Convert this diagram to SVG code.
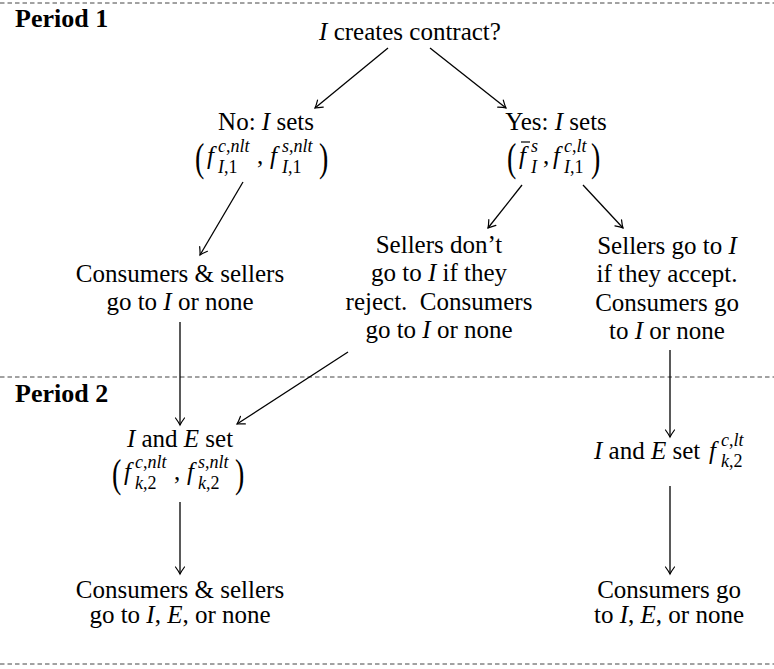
<svg xmlns="http://www.w3.org/2000/svg" width="774" height="669" viewBox="0 0 774 669">
<style>
text{font-family:'Liberation Serif','DejaVu Serif',serif}
.t{font-size:25px;fill:#000}
.c{text-anchor:middle}
.m{font-style:italic}
.u{font-style:normal}
.s{font-size:18px}
.b{font-weight:bold;font-size:26px}
.p{font-size:28px;fill:#000}
.cn{stroke:#000;stroke-width:1.3;fill:none;marker-end:url(#arr)}
.dash{stroke:#444;stroke-width:1;stroke-dasharray:4.5 3;fill:none}
</style>
<defs>
<marker id="arr" markerUnits="userSpaceOnUse" markerWidth="16" markerHeight="16" viewBox="-10 -8 16 16" refX="0" refY="0" orient="auto">
<path d="M-7,-4.5 Q-2.5,-1.2 0,0 Q-2.5,1.2 -7,4.5" fill="none" stroke="#000" stroke-width="1.2" stroke-linecap="round"/>
</marker>
</defs>
<rect width="774" height="669" fill="#fff"/>

<g id="separators">
<line class="dash" x1="0" y1="3" x2="774" y2="3"/>
<line class="dash" x1="0" y1="377" x2="774" y2="377"/>
<line class="dash" x1="0" y1="664" x2="774" y2="664"/>
</g>

<g id="period1"><text class="t b" x="15" y="27">Period 1</text></g>
<g id="period2"><text class="t b" x="15" y="402">Period 2</text></g>

<g id="n_root">
<text class="t c" x="410" y="40"><tspan class="m">I</tspan> creates contract?</text>
</g>

<g id="n_no">
<text class="t c" x="266" y="130">No: <tspan class="m">I</tspan> sets</text>
<text class="p" transform="translate(195,171) scale(1,1.4)">(</text>
<text class="t m" x="207" y="164">f</text>
<text class="t m s" x="218" y="152">c<tspan class="u">,</tspan>nlt</text>
<text class="t m s" x="218" y="173">I<tspan class="u">,1</tspan></text>
<text class="t" x="257" y="164">,</text>
<text class="t m" x="270" y="164">f</text>
<text class="t m s" x="282" y="152">s<tspan class="u">,</tspan>nlt</text>
<text class="t m s" x="282" y="173">I<tspan class="u">,1</tspan></text>
<text class="p" transform="translate(319,171) scale(1,1.4)">)</text>
</g>

<g id="n_yes">
<text class="t c" x="556" y="130">Yes: <tspan class="m">I</tspan> sets</text>
<text class="p" transform="translate(507,171) scale(1,1.4)">(</text>
<text class="t m" x="519" y="164">f</text>
<line x1="521" y1="142" x2="530" y2="142" stroke="#000" stroke-width="1.2"/>
<text class="t m s" x="531" y="152">s</text>
<text class="t m s" x="531" y="173">I</text>
<text class="t" x="543" y="164">,</text>
<text class="t m" x="553" y="164">f</text>
<text class="t m s" x="564" y="152">c<tspan class="u">,</tspan>lt</text>
<text class="t m s" x="564" y="173">I<tspan class="u">,1</tspan></text>
<text class="p" transform="translate(591,171) scale(1,1.4)">)</text>
</g>

<g id="n_cs1">
<text class="t c" x="180" y="282">Consumers &amp; sellers</text>
<text class="t c" x="180" y="310">go to <tspan class="m">I</tspan> or none</text>
</g>

<g id="n_reject">
<text class="t c" x="439" y="253">Sellers don’t</text>
<text class="t c" x="439" y="281">go to <tspan class="m">I</tspan> if they</text>
<text class="t c" x="439" y="310" xml:space="preserve">reject.  Consumers</text>
<text class="t c" x="439" y="338">go to <tspan class="m">I</tspan> or none</text>
</g>

<g id="n_accept">
<text class="t c" x="667" y="254">Sellers go to <tspan class="m">I</tspan></text>
<text class="t c" x="667" y="282">if they accept.</text>
<text class="t c" x="667" y="311">Consumers go</text>
<text class="t c" x="667" y="339">to <tspan class="m">I</tspan> or none</text>
</g>

<g id="n_p2left">
<text class="t c" x="180" y="447"><tspan class="m">I</tspan> and <tspan class="m">E</tspan> set</text>
<text class="p" transform="translate(112,487) scale(1,1.4)">(</text>
<text class="t m" x="124" y="480">f</text>
<text class="t m s" x="135" y="468">c<tspan class="u">,</tspan>nlt</text>
<text class="t m s" x="135" y="489">k<tspan class="u">,2</tspan></text>
<text class="t" x="174" y="480">,</text>
<text class="t m" x="187" y="480">f</text>
<text class="t m s" x="198" y="468">s<tspan class="u">,</tspan>nlt</text>
<text class="t m s" x="198" y="489">k<tspan class="u">,2</tspan></text>
<text class="p" transform="translate(235,487) scale(1,1.4)">)</text>
</g>

<g id="n_p2right">
<text class="t" x="594" y="459"><tspan class="m">I</tspan> and <tspan class="m">E</tspan> set</text>
<text class="t m" x="709" y="459">f</text>
<text class="t m s" x="721" y="446">c<tspan class="u">,</tspan>lt</text>
<text class="t m s" x="721" y="467">k<tspan class="u">,2</tspan></text>
</g>

<g id="n_endleft">
<text class="t c" x="180" y="598">Consumers &amp; sellers</text>
<text class="t c" x="180" y="623">go to <tspan class="m">I</tspan>, <tspan class="m">E</tspan>, or none</text>
</g>

<g id="n_endright">
<text class="t c" x="669" y="598">Consumers go</text>
<text class="t c" x="669" y="623">to <tspan class="m">I</tspan>, <tspan class="m">E</tspan>, or none</text>
</g>

<g id="connectors">
<line class="cn" x1="388" y1="48" x2="315" y2="108"/>
<line class="cn" x1="430" y1="48" x2="506" y2="108"/>
<line class="cn" x1="243" y1="182" x2="200" y2="255"/>
<line class="cn" x1="522" y1="185" x2="488" y2="228"/>
<line class="cn" x1="583" y1="185" x2="623" y2="228"/>
<line class="cn" x1="180" y1="322" x2="180" y2="425"/>
<line class="cn" x1="348" y1="352" x2="237" y2="424"/>
<line class="cn" x1="670" y1="350" x2="670" y2="437"/>
<line class="cn" x1="180" y1="502" x2="180" y2="574"/>
<line class="cn" x1="670" y1="486" x2="670" y2="574"/>
</g>
</svg>
